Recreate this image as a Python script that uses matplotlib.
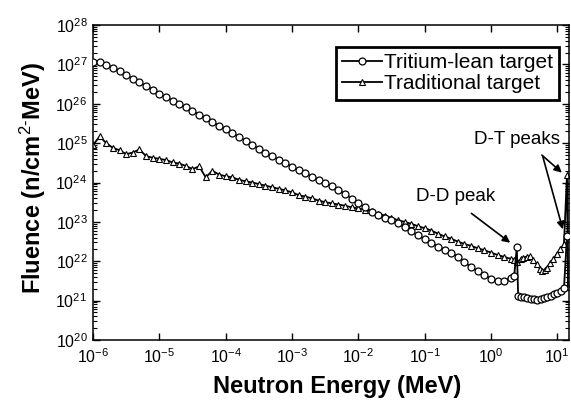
import matplotlib
matplotlib.use("Agg")
import matplotlib.pyplot as plt
import numpy as np
from matplotlib.ticker import LogLocator, NullLocator

plt.rcParams['font.family'] = ['Liberation Sans', 'DejaVu Sans']
plt.rcParams['mathtext.fontset'] = 'custom'
plt.rcParams['mathtext.rm'] = 'Liberation Sans'
plt.rcParams['mathtext.it'] = 'Liberation Sans:italic'
plt.rcParams['mathtext.bf'] = 'Liberation Sans:bold'

# ---- data (log10 of energy in MeV, log10 of fluence in n/cm^2-MeV) ----
lean_logE = [-6.0, -5.9, -5.8, -5.7, -5.6, -5.5, -5.4, -5.3, -5.2, -5.1,
             -5.0, -4.9, -4.8, -4.7, -4.6, -4.5, -4.4, -4.3, -4.2, -4.1,
             -4.0, -3.9, -3.8, -3.7, -3.6, -3.5, -3.4, -3.3, -3.2, -3.1,
             -3.0, -2.9, -2.8, -2.7, -2.6, -2.5, -2.4, -2.3, -2.2, -2.1,
             -2.0, -1.9, -1.8, -1.7, -1.6, -1.5, -1.4, -1.3, -1.2, -1.1,
             -1.0, -0.9, -0.8, -0.7, -0.6, -0.5, -0.4, -0.3, -0.2, -0.1,
             0.0, 0.1, 0.2, 0.3, 0.35, 0.389, 0.41, 0.45, 0.50, 0.55,
             0.60, 0.65, 0.70, 0.75, 0.80, 0.85, 0.90, 0.95, 1.00, 1.05,
             1.10, 1.146]
lean_logF = [27.05, 27.05, 26.99, 26.91, 26.83, 26.74, 26.63, 26.54, 26.45, 26.36,
             26.26, 26.17, 26.08, 25.99, 25.91, 25.82, 25.72, 25.63, 25.53, 25.44,
             25.35, 25.25, 25.16, 25.06, 24.96, 24.86, 24.76, 24.67, 24.58, 24.49,
             24.40, 24.31, 24.23, 24.15, 24.07, 23.99, 23.90, 23.81, 23.71, 23.59,
             23.47, 23.37, 23.26, 23.18, 23.11, 23.04, 22.96, 22.86, 22.76, 22.66,
             22.56, 22.46, 22.37, 22.29, 22.21, 22.12, 21.98, 21.85, 21.75, 21.65,
             21.56, 21.49, 21.51, 21.58, 21.63, 22.35, 21.12, 21.10, 21.08, 21.06,
             21.04, 21.03, 21.02, 21.03, 21.06, 21.09, 21.13, 21.16, 21.20, 21.25,
             21.31, 22.64]

trad_logE = [-6.0, -5.9, -5.8, -5.7, -5.6, -5.5, -5.4, -5.3, -5.2, -5.1,
             -5.0, -4.9, -4.8, -4.7, -4.6, -4.5, -4.4, -4.3, -4.2, -4.1,
             -4.0, -3.9, -3.8, -3.7, -3.6, -3.5, -3.4, -3.3, -3.2, -3.1,
             -3.0, -2.9, -2.8, -2.7, -2.6, -2.5, -2.4, -2.3, -2.2, -2.1,
             -2.0, -1.9, -1.8, -1.7, -1.6, -1.5, -1.4, -1.3, -1.2, -1.1,
             -1.0, -0.9, -0.8, -0.7, -0.6, -0.5, -0.4, -0.3, -0.2, -0.1,
             0.0, 0.1, 0.2, 0.3, 0.35, 0.39, 0.45, 0.49, 0.54, 0.59,
             0.64, 0.69, 0.74, 0.77, 0.81, 0.84, 0.89, 0.94, 0.99, 1.04,
             1.10, 1.146, 1.160]
trad_logF = [24.95, 25.17, 25.00, 24.88, 24.82, 24.72, 24.76, 24.84, 24.67, 24.63,
             24.60, 24.57, 24.51, 24.48, 24.42, 24.34, 24.41, 24.13, 24.30, 24.20,
             24.16, 24.13, 24.07, 24.03, 24.00, 23.96, 23.92, 23.88, 23.84, 23.80,
             23.75, 23.68, 23.64, 23.60, 23.54, 23.50, 23.47, 23.44, 23.41, 23.37,
             23.34, 23.31, 23.27, 23.21, 23.16, 23.10, 23.04, 23.00, 22.95, 22.89,
             22.84, 22.78, 22.70, 22.63, 22.57, 22.50, 22.44, 22.39, 22.33, 22.28,
             22.22, 22.16, 22.11, 22.06, 22.04, 21.97, 22.05, 22.09, 22.12, 22.13,
             22.03, 21.92, 21.80, 21.75, 21.78, 21.84, 21.95, 22.05, 22.18, 22.30,
             22.43, 24.20, 21.35]

series_labels = ["Tritium-lean target", "Traditional target"]
x_label = "Neutron Energy (MeV)"
y_label = r"Fluence (n/cm$^{2\text{-}}$MeV)"

lean_E = 10.0 ** np.array(lean_logE)
lean_F = 10.0 ** np.array(lean_logF)
trad_E = 10.0 ** np.array(trad_logE)
trad_F = 10.0 ** np.array(trad_logF)

fig = plt.figure(figsize=(5.71, 4.01), dpi=100)
ax = fig.add_axes([93/571, 1-340/401, (569-93)/571, (340-25)/401])

ax.plot(lean_E, lean_F, color='black', lw=1.3, marker='o', ms=5.0,
        mfc='white', mec='black', mew=0.9, label=series_labels[0], zorder=3)
ax.plot(trad_E, trad_F, color='black', lw=1.3, marker='^', ms=4.8,
        mfc='white', mec='black', mew=0.8, label=series_labels[1], zorder=2)

ax.set_xscale('log')
ax.set_yscale('log')
ax.set_xlim(1e-6, 15)
ax.set_ylim(1e20, 1e28)

ax.xaxis.set_major_locator(LogLocator(base=10, numticks=20))
ax.xaxis.set_minor_locator(NullLocator())
ax.yaxis.set_major_locator(LogLocator(base=10, numticks=20))
ax.yaxis.set_minor_locator(LogLocator(base=10, subs=np.arange(2, 10), numticks=20))
ax.yaxis.set_minor_formatter(plt.NullFormatter())

ax.tick_params(which='both', direction='in', top=True, right=True, labelsize=11.5, colors='black')
ax.tick_params(which='major', length=5, width=1)
ax.tick_params(which='minor', length=3, width=0.8)
ax.tick_params(axis='x', pad=5)
ax.tick_params(axis='y', pad=4)
for s in ax.spines.values():
    s.set_linewidth(1.1)
    s.set_color('black')

leg = ax.legend(loc='upper right', bbox_to_anchor=(0.979, 0.930), fontsize=15,
                handlelength=1.9, handletextpad=0.1, borderpad=0.3, labelspacing=0.1,
                numpoints=1, fancybox=False, framealpha=1, edgecolor='black',
                borderaxespad=0)
leg.get_frame().set_linewidth(2.0)

arrow = dict(arrowstyle='-|>', color='black', lw=1.2, mutation_scale=11, shrinkA=0, shrinkB=0)
ax.text(0.891, 0.635, "D-T peaks", transform=ax.transAxes, ha='center', va='center', fontsize=13.5)
ax.annotate("", xy=(10**1.069, 10**24.25), xycoords='data',
            xytext=(0.943, 0.587), textcoords='axes fraction', arrowprops=arrow)
ax.annotate("", xy=(10**1.083, 10**22.81), xycoords='data',
            xytext=(0.945, 0.582), textcoords='axes fraction', arrowprops=arrow)
ax.text(0.761, 0.454, "D-D peak", transform=ax.transAxes, ha='center', va='center', fontsize=13.5)
ax.annotate("", xy=(10**0.29, 10**22.47), xycoords='data',
            xytext=(0.795, 0.402), textcoords='axes fraction', arrowprops=arrow)

fig.text(337/571, 1-387/401, x_label, ha='center', va='center', fontsize=17, fontweight='bold')
fig.text(33/571, 1-178/401, y_label, ha='center', va='center', fontsize=17, fontweight='bold',
         rotation=90)

fig.savefig("out.png", dpi=100, facecolor='white')
